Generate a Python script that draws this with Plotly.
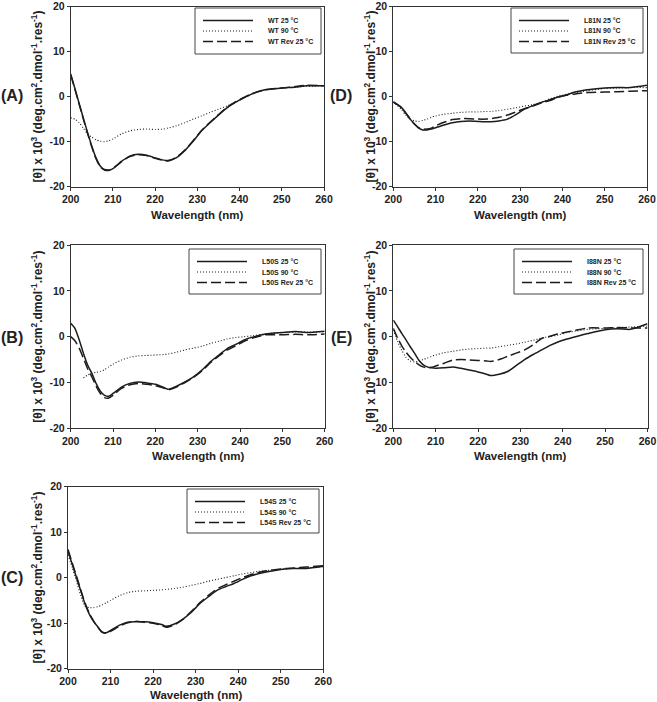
import plotly.graph_objects as go

W, H = 657, 702

# ---------------- data ----------------
wavelength = [200, 201, 202, 203, 204, 205, 206, 207, 208, 209, 210, 212, 214, 216, 218, 220,
              222, 223, 225, 227, 229, 231, 233, 235, 237, 239, 241, 243, 246, 250, 253, 256, 260]

wt_25 = [5.0, 1.8, -1.5, -4.8, -8.0, -11.0, -13.6, -15.4, -16.3, -16.4, -16.0, -14.4, -13.2, -12.8, -13.0, -13.6,
         -14.1, -14.2, -13.6, -12.0, -9.9, -7.6, -5.8, -4.1, -2.5, -1.3, -0.3, 0.6, 1.5, 1.9, 2.1, 2.4, 2.4]
wt_90 = [-4.7, -5.0, -5.8, -7.0, -8.3, -9.0, -9.6, -9.9, -10.0, -9.8, -9.4, -8.3, -7.6, -7.3, -7.2, -7.3,
         -7.2, -7.0, -6.5, -5.8, -5.0, -4.3, -3.5, -2.8, -2.1, -1.3, -0.3, 0.6, 1.5, 1.9, 2.1, 2.3, 2.4]
wt_rev = [4.8, 1.6, -1.7, -5.0, -8.2, -11.2, -13.8, -15.6, -16.2, -16.3, -15.9, -14.5, -13.3, -12.9, -13.1, -13.7,
          -14.2, -14.3, -13.5, -11.9, -9.8, -7.5, -5.7, -4.0, -2.4, -1.2, -0.2, 0.7, 1.5, 1.9, 2.2, 2.5, 2.4]

l50s_25 = [2.9, 1.8, -0.7, -3.6, -6.2, -8.0, -10.2, -11.9, -12.8, -13.0, -12.4, -11.0, -10.2, -9.9, -10.1, -10.4,
           -11.1, -11.5, -10.8, -9.9, -8.8, -7.3, -5.5, -4.0, -2.6, -1.7, -0.7, -0.1, 0.6, 0.9, 1.1, 0.9, 1.2]
l50s_90 = [None, None, None, -9.0, -8.4, -8.0, -7.8, -7.6, -7.2, -6.6, -6.0, -5.1, -4.5, -4.2, -4.1, -4.0,
           -3.9, -3.8, -3.4, -2.9, -2.5, -2.1, -1.5, -1.0, -0.5, -0.2, 0.0, 0.2, 0.6, 0.9, 1.0, 1.0, 1.1]
l50s_rev = [0.0, -0.9, -2.5, -4.7, -7.0, -8.8, -10.8, -12.4, -13.3, -13.4, -12.8, -11.3, -10.5, -10.2, -10.4, -10.7,
            -11.2, -11.6, -11.0, -10.0, -8.9, -7.5, -5.7, -4.2, -2.9, -2.0, -1.0, -0.3, 0.4, 0.4, 0.5, 0.4, 0.6]

l54s_25 = [5.8, 2.9, 0.0, -2.9, -5.8, -8.0, -9.6, -10.8, -12.0, -12.1, -11.6, -10.5, -9.8, -9.7, -9.7, -9.9,
           -10.3, -10.7, -10.2, -9.1, -7.6, -5.7, -4.2, -2.8, -2.0, -1.3, -0.4, 0.4, 1.1, 1.8, 2.0, 2.0, 2.5]
l54s_90 = [5.0, 2.2, -0.8, -4.0, -6.3, -6.6, -6.6, -6.4, -6.0, -5.5, -5.0, -4.0, -3.3, -3.0, -2.9, -2.8,
           -2.7, -2.6, -2.4, -2.1, -1.7, -1.3, -0.8, -0.4, 0.0, 0.4, 0.8, 1.1, 1.5, 1.8, 2.0, 2.1, 2.4]
l54s_rev = [6.2, 3.2, 0.3, -2.7, -5.6, -7.8, -9.5, -10.9, -11.9, -12.2, -11.8, -10.7, -9.9, -9.6, -9.8, -10.0,
            -10.5, -10.9, -10.4, -9.2, -7.4, -5.5, -3.9, -2.5, -1.6, -0.8, 0.0, 0.7, 1.4, 1.9, 2.1, 2.3, 2.6]

l81n_25 = [-1.2, -1.8, -2.5, -3.7, -5.0, -6.1, -7.0, -7.4, -7.4, -7.2, -6.9, -6.3, -5.8, -5.5, -5.4, -5.5,
           -5.6, -5.6, -5.4, -5.0, -4.0, -2.8, -2.0, -1.3, -0.7, -0.1, 0.4, 1.0, 1.5, 1.9, 2.0, 2.0, 2.5]
l81n_90 = [-1.2, -2.0, -3.0, -4.2, -5.0, -5.4, -5.5, -5.3, -5.0, -4.6, -4.3, -3.9, -3.7, -3.5, -3.4, -3.4,
           -3.3, -3.3, -3.1, -2.8, -2.5, -2.1, -1.8, -1.2, -0.5, 0.1, 0.5, 0.9, 1.3, 1.8, 1.9, 2.0, 2.0]
l81n_rev = [-1.2, -1.8, -2.5, -3.7, -5.0, -6.1, -6.9, -7.2, -7.2, -7.0, -6.5, -5.7, -5.1, -4.9, -4.9, -5.0,
            -5.0, -4.9, -4.6, -4.1, -3.4, -2.7, -2.1, -1.4, -0.9, -0.1, 0.3, 0.6, 0.9, 1.0, 1.1, 1.2, 1.3]

i88n_25 = [3.6, 2.2, 0.7, -0.7, -2.2, -3.6, -5.1, -6.1, -6.6, -6.8, -6.9, -6.8, -6.6, -6.9, -7.3, -7.7,
           -8.2, -8.5, -8.2, -7.6, -6.3, -5.0, -3.9, -2.9, -1.9, -1.1, -0.5, 0.0, 0.7, 1.5, 1.7, 1.6, 2.8]
i88n_90 = [1.5, -1.0, -3.0, -4.5, -5.3, -5.5, -5.4, -5.0, -4.7, -4.3, -4.0, -3.5, -3.2, -2.9, -2.7, -2.6,
           -2.5, -2.5, -2.2, -1.9, -1.6, -1.2, -0.8, -0.3, 0.0, 0.4, 0.9, 1.2, 1.6, 1.8, 2.0, 2.1, 2.3]
i88n_rev = [1.8, -0.3, -2.0, -3.4, -4.5, -5.4, -6.1, -6.6, -6.8, -6.7, -6.4, -5.8, -5.1, -5.0, -5.1, -5.2,
            -5.3, -5.4, -5.0, -4.3, -3.6, -2.9, -1.8, -0.4, 0.1, 0.6, 1.0, 1.4, 1.9, 1.9, 2.0, 1.9, 1.9]

panel_labels = ["(A)", "(D)", "(B)", "(E)", "(C)"]
variants = ["WT", "L81N", "L50S", "I88N", "L54S"]
condition_names = ["25 °C", "90 °C", "Rev 25 °C"]
panel_series = [
    [wt_25, wt_90, wt_rev],
    [l81n_25, l81n_90, l81n_rev],
    [l50s_25, l50s_90, l50s_rev],
    [i88n_25, i88n_90, i88n_rev],
    [l54s_25, l54s_90, l54s_rev],
]
x_ticks = [200, 210, 220, 230, 240, 250, 260]
y_ticks = [-20, -10, 0, 10, 20]
y_tick_text = ["-20", "-10", "0", "10", "20"]

# ---------------- layout geometry (pixels) ----------------
plot_boxes = [  # x0, x1, y0(top), y1(bottom)
    (70.7, 324.0, 6.5, 186.7),
    (393.3, 647.0, 6.5, 186.7),
    (70.7, 324.7, 245.0, 428.3),
    (393.3, 647.5, 245.0, 428.3),
    (68.0, 323.3, 486.5, 668.7),
]
legend_boxes = [  # x0, y0, x1, y1
    (195, 8, 321, 54),
    (511, 8, 643, 53),
    (189, 249, 321, 294),
    (514, 249, 643, 294),
    (187, 489, 319, 533),
]
label_pos = [(12, 96), (341, 96), (12, 337), (341, 337), (12, 577)]
ytitle_x = [37, 370, 37, 370, 37]
xtitle_gap = [28, 28, 28, 28, 26]

def px(x):
    return x / W

def py(y):
    return 1 - y / H

FONT = "Liberation Sans, Arial, sans-serif"
LINE_COL = "#1c1c1c"
styles = [dict(dash="solid", width=1.5), dict(dash="1px,2px", width=1.1), dict(dash="10px,4px", width=1.5)]

fig = go.Figure()
annotations = []
shapes = []

for i in range(5):
    ax = "" if i == 0 else str(i + 1)
    x0, x1, y0, y1 = plot_boxes[i]
    for j, ys in enumerate(panel_series[i]):
        fig.add_trace(go.Scatter(
            x=wavelength, y=ys, mode="lines",
            name=f"{variants[i]} {condition_names[j]}",
            line=dict(color=LINE_COL, shape="spline", smoothing=0.6, **styles[j]),
            xaxis="x" + ax, yaxis="y" + ax, showlegend=False, connectgaps=False,
        ))
    axis_common = dict(showline=True, mirror=True, linecolor="#333", linewidth=1, automargin=False,
                       ticklabeloverflow="allow",
                       ticks="outside", ticklen=3, tickcolor="#333", showgrid=False, zeroline=False,
                       tickfont=dict(family=FONT, size=10.5, color="#222", weight="bold"))
    fig.update_layout(**{
        "xaxis" + ax: dict(domain=[px(x0), px(x1)], range=[200, 260], tickvals=x_ticks,
                           anchor="y" + ax, **axis_common),
        "yaxis" + ax: dict(domain=[py(y1), py(y0)], range=[-20, 20], tickvals=y_ticks,
                           ticktext=y_tick_text, anchor="x" + ax, **axis_common),
    })
    # axis titles
    annotations.append(dict(x=px((x0 + x1) / 2), y=py(y1 + xtitle_gap[i]), xref="paper", yref="paper",
                            xanchor="center", yanchor="middle",
                            text="<b>Wavelength (nm)</b>", showarrow=False,
                            font=dict(family=FONT, size=11.5, color="#222")))
    annotations.append(dict(x=px(ytitle_x[i]), y=py((y0 + y1) / 2), xref="paper", yref="paper",
                            xanchor="center", yanchor="middle",
                            text="<b>[θ] x 10<sup>3</sup> (deg.cm<sup>2</sup>.dmol<sup>-1</sup>.res<sup>-1</sup>)</b>",
                            textangle=-90, showarrow=False,
                            font=dict(family=FONT, size=12, color="#222")))
    # panel label
    lx, ly = label_pos[i]
    annotations.append(dict(x=px(lx), y=py(ly), xref="paper", yref="paper",
                            xanchor="center", yanchor="middle",
                            text="<b>" + panel_labels[i] + "</b>", showarrow=False,
                            font=dict(family=FONT, size=16, color="#222")))
    # legend box
    bx0, by0, bx1, by1 = legend_boxes[i]
    shapes.append(dict(type="rect", xref="paper", yref="paper", x0=px(bx0), x1=px(bx1),
                       y0=py(by1), y1=py(by0), line=dict(color="#444", width=1),
                       fillcolor="white"))
    for j in range(3):
        ry = by0 + 12.5 + 10.5 * j
        shapes.append(dict(type="line", xref="paper", yref="paper",
                           x0=px(bx0 + 8), x1=px(bx0 + 58), y0=py(ry), y1=py(ry),
                           line=dict(color=LINE_COL, **styles[j])))
        annotations.append(dict(x=px(bx0 + 71), y=py(ry), xref="paper", yref="paper",
                                xanchor="left", yanchor="middle", showarrow=False,
                                text="<b>" + f"{variants[i]} {condition_names[j]}" + "</b>",
                                font=dict(family=FONT, size=7, color="#222")))

fig.update_layout(width=W, height=H, margin=dict(l=0, r=0, t=0, b=0, autoexpand=False),
                  paper_bgcolor="white", plot_bgcolor="white",
                  annotations=annotations, shapes=shapes, showlegend=False)

fig.write_html("out.html", config={"displayModeBar": False},
               post_script="document.body.style.margin='0';document.body.style.padding='0';"
                           "document.body.style.overflow='hidden';")
